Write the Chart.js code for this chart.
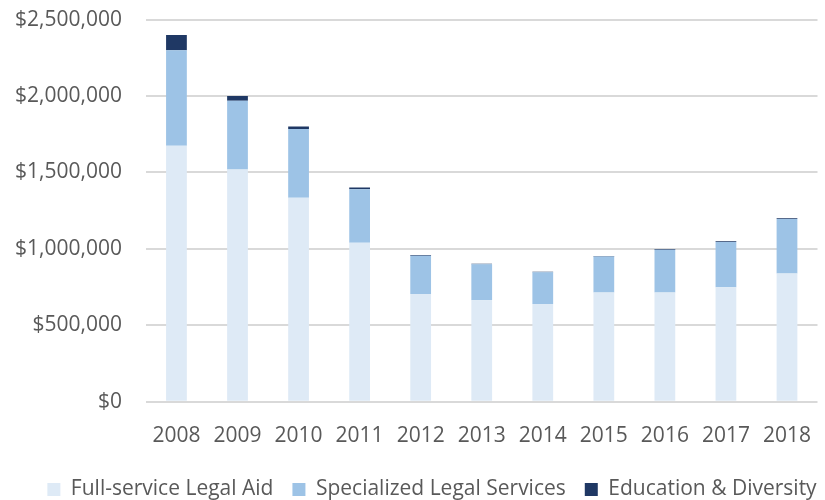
<!DOCTYPE html>
<html>
<head>
<meta charset="utf-8">
<script src="https://cdn.jsdelivr.net/npm/chart.js@4/dist/chart.umd.min.js"></script>
<style>
  html, body { margin: 0; padding: 0; background: #fff; overflow: hidden; }
  #wrap { width: 825px; height: 517px; margin-top: -17px; }
</style>
</head>
<body>
<div id="wrap"><canvas id="myChart"></canvas></div>
<script>
const years = ['2008','2009','2010','2011','2012','2013','2014','2015','2016','2017','2018'];
const fullService = [1675000, 1520000, 1335000, 1040000, 705000, 665000, 640000, 715000, 715000, 750000, 840000];
const specialized = [625000, 450000, 450000, 350000, 250000, 235000, 207000, 235000, 280000, 295000, 355000];
const education = [100000, 30000, 15000, 12000, 5000, 3000, 3000, 3000, 5000, 5000, 5000];

const textColor = '#595959';
const fontFamily = "'Open Sans', 'Noto Sans', sans-serif";

// nudge the legend a bit to the right, like the original
const legendShift = {
  id: 'legendShift',
  afterLayout(chart) {
    if (chart.legend) {
      chart.legend.left += 24;
      chart.legend.right += 24;
    }
  }
};

const ctx = document.getElementById('myChart');
new Chart(ctx, {
  type: 'bar',
  data: {
    labels: years,
    datasets: [
      { label: 'Full-service Legal Aid', data: fullService, backgroundColor: '#DEEAF6' },
      { label: 'Specialized Legal Services', data: specialized, backgroundColor: '#9DC3E6' },
      { label: 'Education & Diversity', data: education, backgroundColor: '#1F3864' }
    ]
  },
  options: {
    responsive: true,
    maintainAspectRatio: false,
    animation: false,
    layout: { padding: { left: -9, right: 0, top: -13, bottom: -10 } },
    datasets: {
      bar: { categoryPercentage: 1, barPercentage: 0.34 }
    },
    plugins: {
      legend: {
        position: 'bottom',
        labels: {
          boxWidth: 13,
          boxHeight: 13,
          padding: 19,
          color: textColor,
          font: { family: fontFamily, size: 21 }
        }
      },
      tooltip: { enabled: false }
    },
    scales: {
      x: {
        stacked: true,
        grid: { display: false },
        border: { display: false },
        ticks: { color: textColor, font: { family: fontFamily, size: 21 }, padding: 14 },
        afterFit: (scale) => { scale.height -= 3; }
      },
      y: {
        stacked: true,
        min: 0,
        max: 2500000,
        border: { display: false },
        grid: { color: '#D9D9D9', lineWidth: 2, drawTicks: false },
        ticks: {
          stepSize: 500000,
          color: textColor,
          padding: 24,
          font: { family: fontFamily, size: 21 },
          callback: (v) => '$' + v.toLocaleString('en-US')
        }
      }
    }
  },
  plugins: [legendShift]
});
</script>
</body>
</html>
